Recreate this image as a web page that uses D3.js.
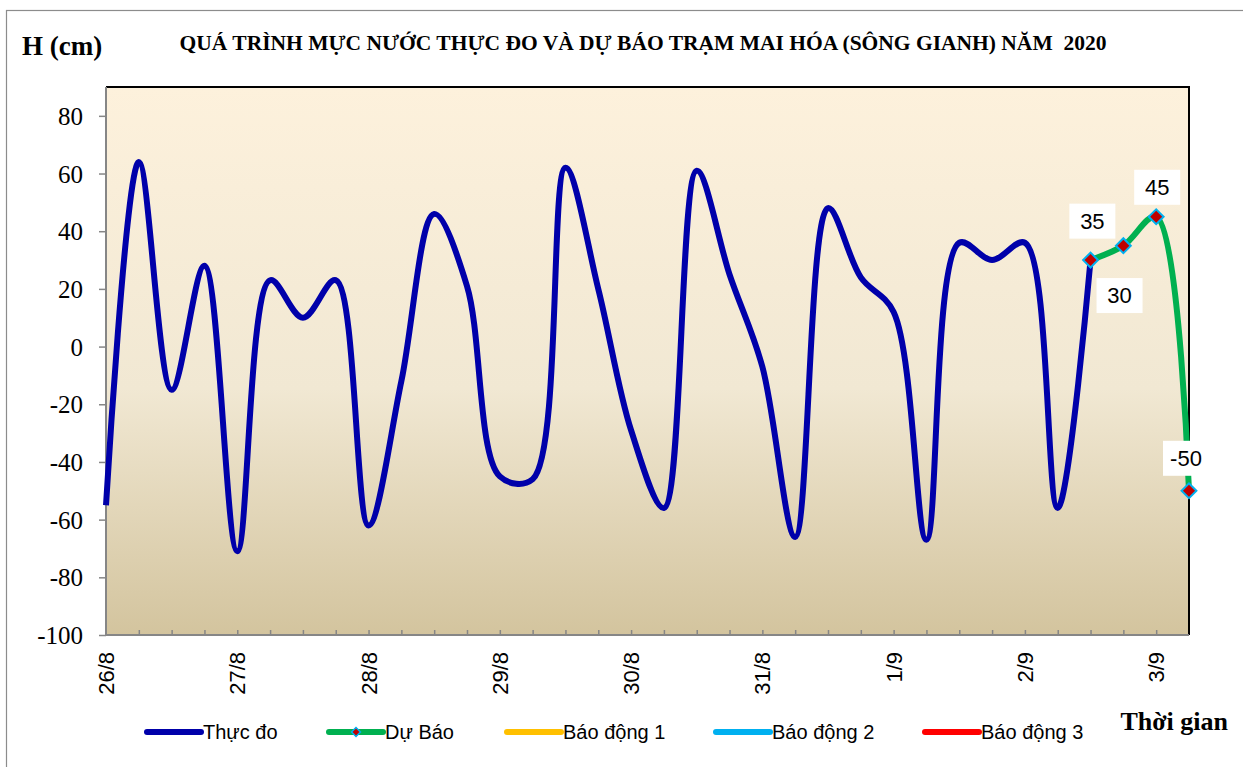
<!DOCTYPE html>
<html>
<head>
<meta charset="utf-8">
<script src="https://cdn.jsdelivr.net/npm/d3@7"></script>
<style>
  body { margin: 0; background: #fff; }
  svg { display: block; }
</style>
</head>
<body>
<svg id="chart" width="1243" height="767"></svg>
<script>
// observed water level (cm), every 6 hours from 26/8
const thucDo = [-55, 64, -15, 28, -71, 23, 10, 23, -62, -12, 46, 21,
  -45, -46, 62, 20, -29, -56, 61, 25, -7, -66, 48, 24, 12, -67, 36, 30, 36, -56, 30];
// forecast, starting at the last observed point
const duBao = [30, 35, 45, -50];
// manual label offsets from the forecast points, as placed in the reference
const labelDx = [29, -31, 1, -3];
const labelDy = [35, -25, -30, -33];
const dayLabels = ['26/8', '27/8', '28/8', '29/8', '30/8', '31/8', '1/9', '2/9', '3/9'];
const stepsPerDay = 4;
const yTicks = [80, 60, 40, 20, 0, -20, -40, -60, -80, -100];
const legendItems = [
  { name: 'Thực đo', color: '#0000AA', x: 147, marker: false },
  { name: 'Dự Báo', color: '#00B050', x: 329, marker: true },
  { name: 'Báo động 1', color: '#FFC000', x: 507, marker: false },
  { name: 'Báo động 2', color: '#00B0F0', x: 716, marker: false },
  { name: 'Báo động 3', color: '#FF0000', x: 925, marker: false }
];

const svg = d3.select('#chart');
const plot = { left: 106, right: 1189, top: 87, bottom: 635 };
const nPoints = thucDo.length + duBao.length - 1;
const serif = '"Liberation Serif", "Times New Roman", serif';
const sans = '"Liberation Sans", Arial, sans-serif';

const x = d3.scaleLinear().domain([0, nPoints - 1]).range([plot.left, plot.right]);
const y = d3.scaleLinear().domain([-100, 90]).range([plot.bottom, plot.top]);

// outer frame
svg.append('rect')
  .attr('x', 6.5).attr('y', 10.5).attr('width', 1250).attr('height', 770)
  .attr('fill', '#fff').attr('stroke', '#8c8c8c').attr('stroke-width', 1.2);

// background gradient
const grad = svg.append('defs').append('linearGradient')
  .attr('id', 'bg').attr('x1', 0).attr('y1', 0).attr('x2', 0).attr('y2', 1);
grad.append('stop').attr('offset', '0%').attr('stop-color', '#FDF1DC');
grad.append('stop').attr('offset', '55%').attr('stop-color', '#F1E8D3');
grad.append('stop').attr('offset', '100%').attr('stop-color', '#D3C49E');

svg.append('rect')
  .attr('x', plot.left).attr('y', plot.top)
  .attr('width', plot.right - plot.left).attr('height', plot.bottom - plot.top)
  .attr('fill', 'url(#bg)');

// top and right border
svg.append('path')
  .attr('d', `M${plot.left},${plot.top}H${plot.right}V${plot.bottom}`)
  .attr('fill', 'none').attr('stroke', '#000').attr('stroke-width', 2);

// y axis
const yAxis = svg.append('g').attr('transform', `translate(${plot.left},0)`)
  .attr('font-family', serif).attr('font-size', 25)
  .call(d3.axisLeft(y).tickValues(yTicks).tickSize(7).tickPadding(16).tickFormat(d => String(d)));
yAxis.attr('font-family', serif).attr('font-size', 25);
yAxis.select('.domain').remove();
yAxis.selectAll('line').attr('stroke', '#868686').attr('stroke-width', 1.5);
yAxis.selectAll('text').attr('fill', '#000').attr('dy', '0.34em');
svg.append('line')
  .attr('x1', plot.left).attr('x2', plot.left).attr('y1', plot.top).attr('y2', plot.bottom + 1)
  .attr('stroke', '#868686').attr('stroke-width', 2);

// x axis: minor ticks inside every 6 hours, labels once a day
const xAxis = svg.append('g').attr('transform', `translate(0,${plot.bottom})`)
  .call(d3.axisBottom(x).tickValues(d3.range(1, nPoints - 1)).tickSize(-5).tickFormat(''));
xAxis.select('.domain').remove();
xAxis.selectAll('line').attr('stroke', '#868686').attr('stroke-width', 1.5);
svg.append('line')
  .attr('x1', plot.left - 1).attr('x2', plot.right).attr('y1', plot.bottom).attr('y2', plot.bottom)
  .attr('stroke', '#868686').attr('stroke-width', 2);

svg.append('g').selectAll('text')
  .data(dayLabels)
  .join('text')
  .attr('transform', (d, i) => `translate(${x(i * stepsPerDay) + 8},${plot.bottom + 17}) rotate(-90)`)
  .attr('text-anchor', 'end')
  .style('font-family', sans)
  .style('font-size', '22px')
  .text(d => d);

// lines
const line = d3.line()
  .x(d => x(d.i))
  .y(d => y(d.v))
  .curve(d3.curveCatmullRom.alpha(0.5));

const obs = thucDo.map((v, i) => ({ i, v }));
const fc = duBao.map((v, k) => ({ i: thucDo.length - 1 + k, v, k }));

svg.append('path')
  .datum(obs)
  .attr('d', line)
  .attr('fill', 'none')
  .attr('stroke', '#0000AA')
  .attr('stroke-width', 6)
  .attr('stroke-linejoin', 'round');

svg.append('path')
  .datum(fc)
  .attr('d', line)
  .attr('fill', 'none')
  .attr('stroke', '#00B050')
  .attr('stroke-width', 6)
  .attr('stroke-linejoin', 'round');

const diamond = d3.symbol(d3.symbolSquare, 110);

svg.append('g').selectAll('path')
  .data(fc)
  .join('path')
  .attr('d', diamond)
  .attr('transform', d => `translate(${x(d.i)},${y(d.v)}) rotate(45)`)
  .attr('fill', '#C00000')
  .attr('stroke', '#00B0F0')
  .attr('stroke-width', 2);

// data labels with white boxes
const lbl = svg.append('g').selectAll('g')
  .data(fc)
  .join('g')
  .attr('transform', d => `translate(${x(d.i) + labelDx[d.k]},${y(d.v) + labelDy[d.k]})`);
lbl.append('rect')
  .attr('x', -23).attr('y', -17).attr('width', 46).attr('height', 35)
  .attr('fill', '#fff');
lbl.append('text')
  .attr('text-anchor', 'middle')
  .attr('y', 8)
  .style('font-family', sans)
  .style('font-size', '22px')
  .text(d => d.v);

// titles
svg.append('text')
  .attr('x', 22).attr('y', 55)
  .style('font-family', serif)
  .style('font-weight', 'bold').style('font-size', '27px')
  .text('H (cm)');

svg.append('text')
  .attr('x', 643).attr('y', 50)
  .attr('text-anchor', 'middle')
  .style('font-family', serif)
  .style('font-weight', 'bold').style('font-size', '21.5px')
  .style('white-space', 'pre')
  .text('QUÁ TRÌNH MỰC NƯỚC THỰC ĐO VÀ DỰ BÁO TRẠM MAI HÓA (SÔNG GIANH) NĂM  2020');

svg.append('text')
  .attr('x', 1228).attr('y', 730)
  .attr('text-anchor', 'end')
  .style('font-family', serif)
  .style('font-weight', 'bold').style('font-size', '26px')
  .text('Thời gian');

// legend
const leg = svg.append('g').selectAll('g')
  .data(legendItems)
  .join('g')
  .attr('transform', d => `translate(${d.x},732)`);
leg.append('line')
  .attr('x1', 0).attr('x2', 54)
  .attr('stroke', d => d.color).attr('stroke-width', 6).attr('stroke-linecap', 'round');
leg.filter(d => d.marker).append('path')
  .attr('d', d3.symbol(d3.symbolSquare, 40))
  .attr('transform', 'translate(27,0) rotate(45)')
  .attr('fill', '#C00000').attr('stroke', '#00B0F0').attr('stroke-width', 1.5);
leg.append('text')
  .attr('x', 56).attr('y', 7)
  .style('font-family', sans)
  .style('font-size', '20px')
  .text(d => d.name);
</script>
</body>
</html>
